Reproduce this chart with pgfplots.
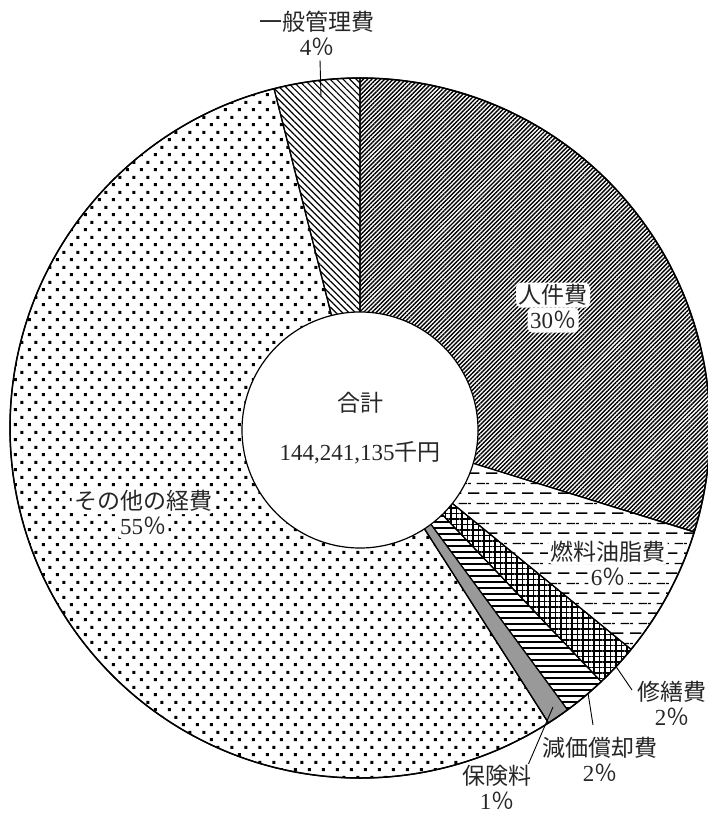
\documentclass[border=0pt]{standalone}
\usepackage{pgfplots}
\pgfplotsset{compat=1.18}
\usepackage{pgfplotstable}
\usetikzlibrary{patterns,patterns.meta}
\usepackage{fontspec}
\setmainfont{Liberation Serif}
\newfontfamily\jp{Noto Sans CJK JP}

% staggered dashed horizontal lines (fuel)
\pgfdeclarepatternformonly{hdash}{\pgfpointorigin}{\pgfpoint{18pt}{20pt}}{\pgfpoint{18pt}{20pt}}{
  \pgfsetlinewidth{1.4pt}
  \pgfpathmoveto{\pgfpoint{0pt}{3pt}}\pgfpathlineto{\pgfpoint{12pt}{3pt}}
  \pgfpathmoveto{\pgfpoint{9pt}{13pt}}\pgfpathlineto{\pgfpoint{18pt}{13pt}}
  \pgfpathmoveto{\pgfpoint{0pt}{13pt}}\pgfpathlineto{\pgfpoint{3pt}{13pt}}
  \pgfusepath{stroke}}
% staggered square dots (other)
\pgfdeclarepatternformonly{sqdots}{\pgfpointorigin}{\pgfpoint{14pt}{15.2pt}}{\pgfpoint{14pt}{15.2pt}}{
  \pgfpathrectangle{\pgfpoint{1pt}{1pt}}{\pgfpoint{3.2pt}{3.2pt}}
  \pgfpathrectangle{\pgfpoint{8pt}{8.6pt}}{\pgfpoint{3.2pt}{3.2pt}}
  \pgfusepath{fill}}

\tikzset{
  wedge0/.style={pattern={Lines[angle=45,distance=3pt,line width=1.4pt]}},
  wedge1/.style={pattern=hdash},
  wedge2/.style={pattern={Hatch[angle=0,distance=5.5pt,line width=1.5pt]}},
  wedge3/.style={pattern={Lines[angle=0,distance=6pt,line width=2pt]}},
  wedge4/.style={fill=black!40},
  wedge5/.style={pattern=sqdots},
  wedge6/.style={pattern={Lines[angle=-45,distance=4.6pt,line width=1.2pt]}},
  lbl/.style={inner xsep=2.5pt,inner ysep=1.5pt,text height=19pt,text depth=3pt,
    fill=white,rounded corners=5pt,text=black!85,font=\fontsize{23}{25}\selectfont},
}
% two-line label centred at (x,y)
\newcommand\lab[4]{%
  \node[lbl] at (axis cs:#1,#2-12.5) {#3};
  \node[lbl] at (axis cs:#1,#2+12.5) {#4};}

% share of each item, clockwise from 12 o'clock
\pgfplotstableread[col sep=comma]{
item,value
jinkenhi,29.8
nenryo,6.1
shuzen,2.0
genka,2.0
hoken,1.05
sonota,55.1
ippan,3.95
}\piedata

\begin{document}
\begin{tikzpicture}
\begin{axis}[
  scale only axis,width=708pt,height=816pt,
  xmin=0,xmax=708,ymin=0,ymax=816,y dir=reverse,
  hide axis,
]
\path (axis cs:0,0) rectangle (axis cs:708,816);
\def\cum{0}
\pgfplotsforeachungrouped \i in {0,...,6}{%
  \pgfplotstablegetelem{\i}{value}\of\piedata
  \let\v\pgfplotsretval
  \pgfmathsetmacro\a{90-3.6*\cum}%
  \pgfmathsetmacro\cum{\cum+\v}%
  \pgfmathsetmacro\b{90-3.6*\cum}%
  \edef\temp{\noexpand\path[wedge\i,draw=black,line width=1.2pt]
    (axis cs:360,428) -- ++(\a:350pt) arc[start angle=\a,end angle=\b,radius=350pt] -- cycle;}%
  \temp
}
\draw[line width=1.5pt] (axis cs:360,428) circle[radius=350pt];
\draw[fill=white,line width=1.2pt] (axis cs:360,430) circle[radius=118pt];

% leader lines
\draw[line width=0.9pt] (axis cs:320,60) -- (axis cs:321,97);
\draw[line width=0.9pt] (axis cs:615,665) -- (axis cs:632,690);
\draw[line width=0.9pt] (axis cs:588,693) -- (axis cs:593,725);
\draw[line width=0.9pt] (axis cs:553,707) -- (axis cs:525,772);

\lab{553}{307.5}{\jp 人件費}{30\jp ％}
\lab{608}{564.5}{\jp 燃料油脂費}{6\jp ％}
\lab{672}{705}{\jp 修繕費}{2\jp ％}
\lab{600}{761}{\jp 減価償却費}{2\jp ％}
\lab{497}{789}{\jp 保険料}{1\jp ％}
\lab{143}{514}{\jp その他の経費}{55\jp ％}
\lab{317}{35.5}{\jp 一般管理費}{4\jp ％}
\node[lbl] at (axis cs:360,403) {\jp 合計};
\node[lbl] at (axis cs:360,452) {144,241,135{\jp 千円}};
\end{axis}
\end{tikzpicture}
\end{document}
